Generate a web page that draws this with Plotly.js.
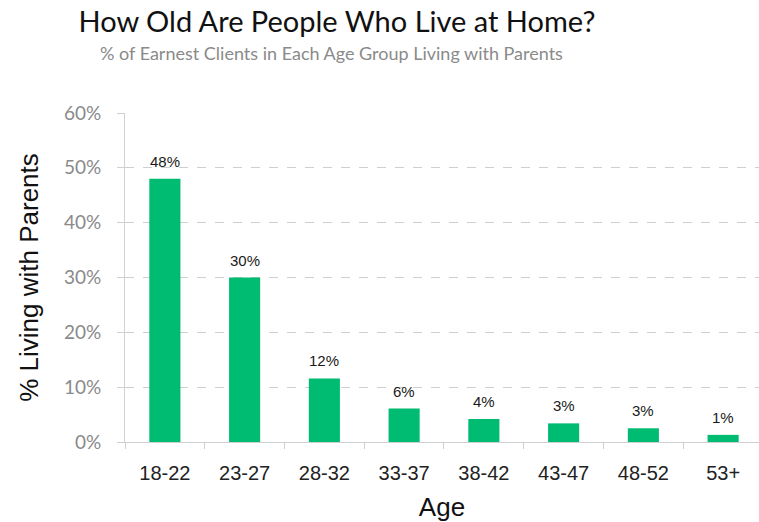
<!DOCTYPE html>
<html><head><meta charset="utf-8">
<script src="https://cdn.plot.ly/plotly-3.0.1.min.js"></script>
<style>html,body{margin:0;padding:0;background:#fff}</style>
</head><body>
<div id="chart" style="width:759px;height:522px"></div>
<script>
const categories = ["18-22","23-27","28-32","33-37","38-42","43-47","48-52","53+"];
const values = [48.0, 30.0, 11.6, 6.1, 4.2, 3.4, 2.5, 1.3];
const labels = ["48%","30%","12%","6%","4%","3%","3%","1%"];
const yTickVals = [0,10,20,30,40,50,60];
const yTickText = ["0%","10%","20%","30%","40%","50%","60%"];

const trace = {
  type: "bar", x: categories, y: values, width: 0.39,
  marker: {color: "#00BC72", line: {width: 0}},
  hoverinfo: "skip"
};
const annos = categories.map((c, i) => ({
  x: c, y: values[i], xref: "x", yref: "y", text: labels[i],
  showarrow: false, yanchor: "bottom", yshift: 7,
  font: {family: "Liberation Sans", size: 15, color: "#1a1a1a"}
}));
annos.push({
  xref: "paper", yref: "paper", x: (331 - 125) / 634, y: 1 + (113 - 53) / 329,
  xanchor: "center", yanchor: "middle", showarrow: false,
  text: "% of Earnest Clients in Each Age Group Living with Parents",
  font: {family: "Lato", size: 18, color: "#8a8a8a"}
});
const layout = {
  width: 759, height: 522,
  margin: {l: 125, r: 0, t: 113, b: 80},
  paper_bgcolor: "#fff", plot_bgcolor: "#fff",
  showlegend: false,
  title: {text: "How Old Are People Who Live at Home?", x: 337/759, xref: "container", xanchor: "center",
          y: 1 - 22/522, yref: "container", yanchor: "middle",
          font: {family: "Lato", size: 29, color: "#111"}},
  xaxis: {type: "category", range: [-0.5, 7.45], tickson: "boundaries",
          ticks: "outside", ticklen: 6, tickcolor: "#d0d0d0", ticklabelstandoff: 13,
          showline: true, linecolor: "#d0d0d0", linewidth: 1,
          showgrid: false, tickfont: {family: "Liberation Sans", size: 20, color: "#222"},
          title: {text: "Age", standoff: 15, font: {family: "Liberation Sans", size: 26, color: "#111"}}},
  yaxis: {range: [0, 60], tickvals: yTickVals, ticktext: yTickText,
          ticks: "outside", ticklen: 7, tickcolor: "#d0d0d0", ticklabelstandoff: 12,
          showline: true, linecolor: "#d0d0d0", linewidth: 1, zeroline: false,
          showgrid: true, gridcolor: "#cfcfcf", griddash: "dash", gridwidth: 1,
          tickfont: {family: "Lato", size: 19, color: "#8a8a8a"},
          title: {text: "% Living with Parents", standoff: 17, font: {family: "Liberation Sans", size: 26, color: "#111"}}},
  annotations: annos,
  bargap: 0.6
};
Plotly.newPlot("chart", [trace], layout, {displayModeBar: false, staticPlot: true});
</script>
</body></html>
